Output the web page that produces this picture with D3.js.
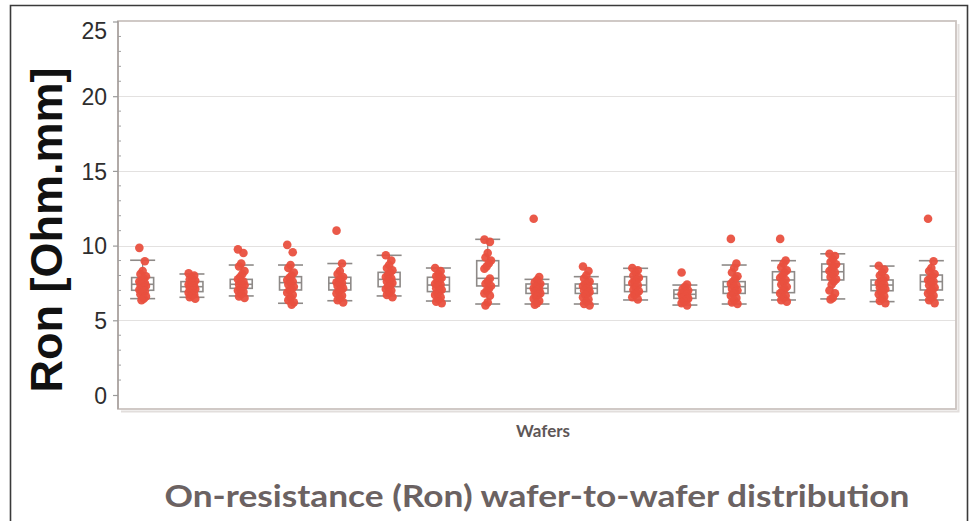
<!DOCTYPE html>
<html>
<head>
<meta charset="utf-8">
<script src="https://cdn.jsdelivr.net/npm/d3@7"></script>
<style>
  html, body { margin: 0; padding: 0; background: #fff; }
  svg { display: block; }
</style>
</head>
<body>
<svg id="chart" width="975" height="521"></svg>
<script>
// Wafer categories (no tick labels are shown on the x axis)
const wafers = d3.range(1, 18).map(d => "W" + d);

// Y axis ticks
const yMajorTicks = [0, 5, 10, 15, 20, 25];
const yGridTicks = [5, 10, 15, 20];

// Box-plot summary per wafer (Ohm.mm)
const whiskerHigh = [9.02, 8.1, 8.7, 8.7, 8.8, 9.35, 8.5, 10.42, 7.74, 7.92, 8.48, 7.36, 8.7, 8.99, 9.45, 8.63, 8.99];
const q3          = [7.86, 7.59, 7.74, 7.92, 7.88, 8.21, 7.88, 8.99, 7.43, 7.43, 7.92, 7.03, 7.59, 8.25, 8.77, 7.70, 8.03];
const median      = [7.41, 7.25, 7.41, 7.52, 7.48, 7.74, 7.36, 7.81, 7.14, 7.14, 7.36, 6.74, 7.25, 7.70, 8.25, 7.36, 7.59];
const q1          = [7.01, 6.92, 7.14, 7.03, 7.03, 7.25, 6.92, 7.30, 6.80, 6.80, 6.92, 6.47, 6.80, 6.85, 7.70, 6.98, 7.03];
const whiskerLow  = [6.45, 6.54, 6.63, 6.14, 6.31, 6.63, 6.29, 6.09, 6.09, 6.09, 6.36, 6.02, 6.09, 6.36, 6.43, 6.25, 6.36];

// Measured Ron per die, one list per wafer (Ohm.mm)
const ronByWafer = [
  [9.85, 8.95, 8.3, 8.1, 7.95, 7.8, 7.7, 7.6, 7.5, 7.45, 7.4, 7.3, 7.2, 7.1, 7.05, 6.95, 6.85, 6.75, 6.6, 6.45, 6.35],
  [8.15, 8.0, 7.85, 7.75, 7.65, 7.55, 7.45, 7.4, 7.3, 7.25, 7.2, 7.1, 7.0, 6.95, 6.85, 6.75, 6.65, 6.55, 6.45],
  [9.75, 9.5, 8.8, 8.6, 8.3, 8.1, 7.9, 7.75, 7.6, 7.5, 7.4, 7.35, 7.2, 7.1, 7.0, 6.9, 6.75, 6.6, 6.5],
  [10.05, 9.55, 8.7, 8.5, 8.2, 8.0, 7.85, 7.7, 7.6, 7.5, 7.4, 7.25, 7.1, 7.0, 6.85, 6.7, 6.5, 6.35, 6.2, 6.05],
  [11.0, 8.8, 8.3, 8.1, 7.9, 7.8, 7.65, 7.55, 7.5, 7.4, 7.3, 7.15, 7.05, 6.95, 6.8, 6.65, 6.5, 6.35, 6.2],
  [9.35, 9.0, 8.7, 8.5, 8.35, 8.2, 8.05, 7.9, 7.8, 7.7, 7.6, 7.5, 7.35, 7.25, 7.1, 7.0, 6.85, 6.7, 6.55],
  [8.5, 8.3, 8.1, 7.95, 7.85, 7.7, 7.55, 7.45, 7.4, 7.3, 7.15, 7.05, 6.95, 6.8, 6.7, 6.55, 6.4, 6.25, 6.15],
  [10.4, 10.25, 9.5, 9.2, 9.0, 8.8, 8.6, 8.45, 7.8, 7.6, 7.45, 7.3, 7.1, 6.95, 6.8, 6.65, 6.2, 6.0],
  [11.8, 7.9, 7.7, 7.55, 7.45, 7.35, 7.25, 7.15, 7.1, 7.0, 6.9, 6.8, 6.7, 6.6, 6.45, 6.3, 6.15, 6.05],
  [8.6, 8.3, 8.0, 7.8, 7.6, 7.5, 7.4, 7.3, 7.2, 7.1, 7.0, 6.9, 6.8, 6.7, 6.55, 6.4, 6.25, 6.1, 6.0],
  [8.5, 8.35, 8.2, 8.0, 7.85, 7.7, 7.6, 7.5, 7.35, 7.2, 7.05, 6.95, 6.8, 6.7, 6.55, 6.4],
  [8.2, 7.4, 7.25, 7.1, 7.0, 6.9, 6.8, 6.75, 6.7, 6.6, 6.5, 6.45, 6.35, 6.25, 6.15, 6.0],
  [10.45, 8.8, 8.5, 8.2, 7.95, 7.8, 7.6, 7.45, 7.35, 7.25, 7.1, 7.0, 6.9, 6.8, 6.65, 6.5, 6.35, 6.2, 6.1],
  [10.45, 9.0, 8.8, 8.55, 8.35, 8.2, 8.0, 7.85, 7.7, 7.55, 7.4, 7.25, 7.1, 6.95, 6.8, 6.65, 6.5, 6.35, 6.25],
  [9.45, 9.3, 9.1, 8.9, 8.75, 8.6, 8.45, 8.3, 8.2, 8.05, 7.9, 7.75, 7.6, 7.4, 7.0, 6.8, 6.5, 6.4],
  [8.65, 8.4, 8.2, 8.0, 7.85, 7.7, 7.6, 7.5, 7.4, 7.3, 7.2, 7.1, 7.0, 6.9, 6.75, 6.6, 6.45, 6.3, 6.15],
  [11.8, 8.95, 8.5, 8.3, 8.1, 7.95, 7.8, 7.7, 7.6, 7.5, 7.35, 7.2, 7.05, 6.95, 6.8, 6.65, 6.5, 6.35, 6.15]
];

const svg = d3.select("#chart");

// Plot frame geometry
const plot = { left: 118, top: 21, right: 956, bottom: 409 };

const x = d3.scaleBand()
  .domain(wafers)
  .range([plot.left, plot.right])
  .paddingInner(0)
  .paddingOuter(0);

const y = d3.scaleLinear()
  .domain([0, 25])
  .range([395, 21.5]);

// Outer figure border
svg.append("path")
  .attr("d", `M10.5,521 V5.5 H967.5 V521`)
  .attr("fill", "none")
  .attr("stroke", "#3a3a3a")
  .attr("stroke-width", 1.6);

// Horizontal gridlines
svg.append("g")
  .selectAll("line")
  .data(yGridTicks)
  .join("line")
  .attr("x1", plot.left)
  .attr("x2", plot.right)
  .attr("y1", d => Math.round(y(d)) + 0.5)
  .attr("y2", d => Math.round(y(d)) + 0.5)
  .attr("stroke", "#e3e1e0")
  .attr("stroke-width", 1.2);

// Plot frame with a soft shadow on the right and bottom
svg.append("path")
  .attr("d", `M${plot.right + 2.5},${plot.top + 3} V${plot.bottom + 2.5} H${plot.left + 3}`)
  .attr("fill", "none")
  .attr("stroke", "#e2dedc")
  .attr("stroke-width", 2);
svg.append("rect")
  .attr("x", plot.left)
  .attr("y", plot.top)
  .attr("width", plot.right - plot.left)
  .attr("height", plot.bottom - plot.top)
  .attr("fill", "none")
  .attr("stroke", "#cbc4c0")
  .attr("stroke-width", 1.8);
svg.append("line")
  .attr("x1", plot.left).attr("x2", plot.left)
  .attr("y1", plot.top).attr("y2", plot.bottom)
  .attr("stroke", "#a9a3a0")
  .attr("stroke-width", 1.6);

// Y axis: major ticks outward, minor ticks inward
const yAxis = d3.axisLeft(y)
  .tickValues(yMajorTicks)
  .tickSize(5)
  .tickPadding(6)
  .tickFormat(d3.format("d"));

const gy = svg.append("g")
  .attr("transform", `translate(${plot.left},0)`)
  .call(yAxis);
gy.select(".domain").remove();
gy.selectAll(".tick line").attr("stroke", "#9a9a9a").attr("stroke-width", 1.2);
gy.selectAll(".tick text")
  .attr("font-family", "Liberation Sans, Arial, sans-serif")
  .attr("font-size", 23)
  .attr("fill", "#2e2e2e")
  .attr("dy", "0.36em")
  .attr("y", d => (y(d) < 30 ? 30 - y(d) : 0));

svg.append("g")
  .selectAll("line")
  .data(d3.range(0, 26).filter(v => v % 5 !== 0))
  .join("line")
  .attr("x1", plot.left)
  .attr("x2", plot.left + 3)
  .attr("y1", d => y(d))
  .attr("y2", d => y(d))
  .attr("stroke", "#a0a0a0")
  .attr("stroke-width", 1);

// Box plots
const boxW = 22, capW = 25;
const boxColor = "#8e8a88";
const boxes = svg.append("g")
  .selectAll("g")
  .data(wafers)
  .join("g")
  .attr("transform", d => `translate(${x(d) + x.bandwidth() / 2},0)`);

boxes.append("line")
  .attr("y1", (d, i) => y(whiskerHigh[i]))
  .attr("y2", (d, i) => y(whiskerLow[i]))
  .attr("stroke", boxColor).attr("stroke-width", 1.3);
boxes.append("rect")
  .attr("x", -boxW / 2)
  .attr("width", boxW)
  .attr("y", (d, i) => y(q3[i]))
  .attr("height", (d, i) => y(q1[i]) - y(q3[i]))
  .attr("fill", "#fff")
  .attr("stroke", boxColor).attr("stroke-width", 1.6);
boxes.append("line")
  .attr("x1", -boxW / 2).attr("x2", boxW / 2)
  .attr("y1", (d, i) => y(median[i]))
  .attr("y2", (d, i) => y(median[i]))
  .attr("stroke", boxColor).attr("stroke-width", 1.6);
[whiskerHigh, whiskerLow].forEach(arr => {
  boxes.append("line")
    .attr("x1", -capW / 2).attr("x2", capW / 2)
    .attr("y1", (d, i) => y(arr[i]))
    .attr("y2", (d, i) => y(arr[i]))
    .attr("stroke", boxColor).attr("stroke-width", 1.6);
});

// Jittered die points (narrow deterministic spread around each wafer's centre)
const jitter = j => (((j * 5) % 7) - 3) * 1.1;
boxes.each(function (d, i) {
  d3.select(this).selectAll("circle")
    .data(ronByWafer[i])
    .join("circle")
    .attr("cx", (v, j) => jitter(j))
    .attr("cy", v => y(v))
    .attr("r", 4.3)
    .attr("fill", "#e9503f")
    .attr("fill-opacity", 0.95);
});

// Y axis title
svg.append("text")
  .attr("transform", "translate(62,230) rotate(-90)")
  .attr("text-anchor", "middle")
  .attr("font-family", "Liberation Sans, Arial, sans-serif")
  .attr("font-weight", "bold")
  .attr("font-size", 45)
  .attr("fill", "#111")
  .text("Ron [Ohm.mm]");

// X axis title
svg.append("text")
  .attr("x", 543)
  .attr("y", 437)
  .attr("text-anchor", "middle")
  .attr("font-family", "Lato, 'Open Sans', sans-serif")
  .attr("font-weight", "bold")
  .attr("font-size", 17)
  .attr("fill", "#5e5757")
  .text("Wafers");

// Caption
svg.append("text")
  .attr("x", 537)
  .attr("y", 507)
  .attr("text-anchor", "middle")
  .attr("font-family", "Lato, 'Open Sans', sans-serif")
  .attr("font-weight", "bold")
  .attr("font-size", 31)
  .attr("fill", "#6b6262")
  .attr("textLength", 745)
  .attr("lengthAdjust", "spacingAndGlyphs")
  .text("On-resistance (Ron) wafer-to-wafer distribution");
</script>
</body>
</html>
